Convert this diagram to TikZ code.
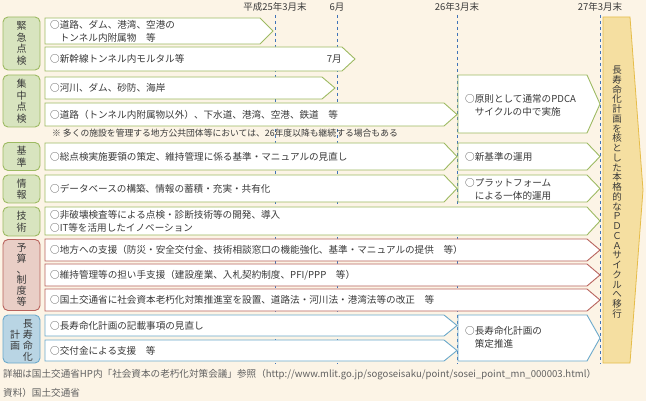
\documentclass[tikz,border=0pt]{standalone}
\usepackage{fontspec}
\setmainfont{Noto Sans CJK JP}
\usepackage{tikz}
\usetikzlibrary{positioning}
\definecolor{bgcol}{HTML}{FCF4E6}
\definecolor{txtcol}{HTML}{3A3A3A}
\definecolor{grnline}{HTML}{9DBA62}
\definecolor{grnfill}{HTML}{D8E4BF}
\definecolor{redline}{HTML}{B8635D}
\definecolor{redfill}{HTML}{E9CEC6}
\definecolor{blueline}{HTML}{6BA9CB}
\definecolor{bluefill}{HTML}{B9D5E4}
\definecolor{dashcol}{HTML}{3F73B8}
\definecolor{goldfill}{HTML}{F5DFA1}
\definecolor{goldline}{HTML}{E6BD4A}
% bar with arrow head: style, x left, y top, y bottom, x tip
\newcommand\rowbar[5]{\draw[#1] (#2,#3) -- ({#5-13},#3) -- (#5,{(#3+#4)/2}) -- ({#5-13},#4) -- (#2,#4) -- cycle;}

\begin{document}
\begin{tikzpicture}[x=1pt, y=-1pt,
    grnbar/.style={draw=grnline, fill=white, line width=0.9pt},
    redbar/.style={draw=redline, fill=white, line width=0.9pt},
    bluebar/.style={draw=blueline, fill=white, line width=0.9pt},
    lab/.style={rounded corners=5pt, line width=0.9pt, minimum width=37pt, inner sep=0pt, align=center, text=txtcol, font=\fontsize{10}{11.5}\selectfont},
    txt/.style={anchor=west, inner sep=0pt, align=left, text=txtcol, font=\fontsize{9.6}{13}\selectfont},
    datum/.style={draw=dashcol, line width=0.9pt, dash pattern=on 3pt off 3pt}]
  \fill[bgcol] (0,0) rectangle (646,401);
  \useasboundingbox (0,0) rectangle (646,401);
  % time marks
  \foreach \x/\t in {275/平成25年3月末, 337/6月, 457/26年3月末, 600/27年3月末}{
    \draw[datum] (\x,15) -- (\x,364);
    \node[text=txtcol, font=\fontsize{9.5}{11}\selectfont, inner sep=0pt] (d\x) at (\x,7) {\t};
  }
  % bars
  \rowbar{grnbar}{45}{18}{44}{273}
  \rowbar{grnbar}{45}{47}{71}{355}
  \rowbar{grnbar}{45}{77}{99}{335}
  \rowbar{grnbar}{45}{103}{126}{457}
  \rowbar{grnbar}{458}{75}{133}{600}
  \rowbar{grnbar}{45}{143}{170}{457}
  \rowbar{grnbar}{458}{143}{170}{600}
  \rowbar{grnbar}{45}{175}{202}{457}
  \rowbar{grnbar}{458}{175}{202}{600}
  \rowbar{grnbar}{45}{207}{235}{600}
  \rowbar{redbar}{45}{239}{261}{600}
  \rowbar{redbar}{45}{264}{286}{600}
  \rowbar{redbar}{45}{289}{311}{600}
  \rowbar{bluebar}{45}{315}{336}{457}
  \rowbar{bluebar}{45}{340}{361}{457}
  \rowbar{bluebar}{458}{315}{361}{600}
  % big arrow
  \draw[fill=goldfill, draw=goldline, line width=0.8pt] (603,17) -- (630,17) -- (643,190) -- (630,363) -- (603,363) -- cycle;
  \node[inner sep=0pt, align=center, text=txtcol, font=\fontsize{9.5}{9.75}\selectfont] (goal) at (617,192)
    {長\\寿\\命\\化\\計\\画\\を\\核\\と\\し\\た\\本\\格\\的\\な\\Ｐ\\Ｄ\\Ｃ\\Ａ\\サ\\イ\\ク\\ル\\へ\\移\\行};
  % category labels
  \node[lab, draw=grnline, fill=grnfill, minimum height=53pt] (kinkyu) at (21.5,43.5) {緊\\急\\点\\検};
  \node[lab, draw=grnline, fill=grnfill, minimum height=52pt] (shuchu) at (21.5,101) {集\\中\\点\\検};
  \node[lab, draw=grnline, fill=grnfill, minimum height=28pt] (kijun) at (21.5,156.5) {基\\準};
  \node[lab, draw=grnline, fill=grnfill, minimum height=28pt] (joho) at (21.5,189) {情\\報};
  \node[lab, draw=grnline, fill=grnfill, minimum height=29pt] (gijutsu) at (21.5,221.5) {技\\術};
  \node[lab, draw=redline, fill=redfill, minimum height=71pt, font=\fontsize{10}{10.8}\selectfont] (yosan) at (21.5,275) {予\\算\\、\\制\\度\\等};
  \node[lab, draw=blueline, fill=bluefill, minimum height=48pt] (choju) at (21.5,339) {};
  \node[inner sep=0pt, align=center, text=txtcol, font=\fontsize{10}{11}\selectfont] (choju1) at (28,340) {長\\寿\\命\\化};
  \node[inner sep=0pt, align=center, text=txtcol, font=\fontsize{10}{11}\selectfont] (choju2) at (15,340) {計\\画};
  % texts
  \node[txt] (t1) at (50,31) {○道路、ダム、港湾、空港の\\\hspace{1em}トンネル内附属物　等};
  \node[txt] (t2) at (50,59) {○新幹線トンネル内モルタル等};
  \node[txt, anchor=east] (t2b) at (342,59) {7月};
  \node[txt] (t3) at (50,88) {○河川、ダム、砂防、海岸};
  \node[txt] (t4) at (50,114.5) {○道路（トンネル内附属物以外）、下水道、港湾、空港、鉄道　等};
  \node[txt, font=\fontsize{8.8}{10}\selectfont] (note) at (52,133) {※ 多くの施設を管理する地方公共団体等においては、26年度以降も継続する場合もある};
  \node[txt] (t5) at (465,105) {○原則として通常のPDCA\\\hspace{1em}サイクルの中で実施};
  \node[txt] (t6) at (50,156.5) {○総点検実施要領の策定、維持管理に係る基準・マニュアルの見直し};
  \node[txt] (t7) at (465,156.5) {○新基準の運用};
  \node[txt] (t8) at (50,188.5) {○データベースの構築、情報の蓄積・充実・共有化};
  \node[txt] (t9) at (465,189.5) {○プラットフォーム\\\hspace{1em}による一体的運用};
  \node[txt] (t10) at (50,221) {○非破壊検査等による点検・診断技術等の開発、導入\\○IT等を活用したイノベーション};
  \node[txt] (t11) at (50,250) {○地方への支援（防災・安全交付金、技術相談窓口の機能強化、基準・マニュアルの提供　等）};
  \node[txt] (t12) at (50,275) {○維持管理等の担い手支援（建設産業、入札契約制度、PFI/PPP　等）};
  \node[txt] (t13) at (50,300) {○国土交通省に社会資本老朽化対策推進室を設置、道路法・河川法・港湾法等の改正　等};
  \node[txt] (t14) at (50,325.5) {○長寿命化計画の記載事項の見直し};
  \node[txt] (t15) at (50,350.5) {○交付金による支援　等};
  \node[txt] (t16) at (465,337) {○長寿命化計画の\\\hspace{1em}策定推進};
  % footer
  \node[txt, font=\fontsize{9.6}{10}\selectfont, text=txtcol!80] (src1) at (3,375) {詳細は国土交通省HP内「社会資本の老朽化対策会議」参照（http://www.mlit.go.jp/sogoseisaku/point/sosei\_point\_mn\_000003.html）};
  \node[txt, font=\fontsize{9.6}{10}\selectfont, text=txtcol!80] (src2) at (3,393) {資料）国土交通省};
\end{tikzpicture}
\end{document}
